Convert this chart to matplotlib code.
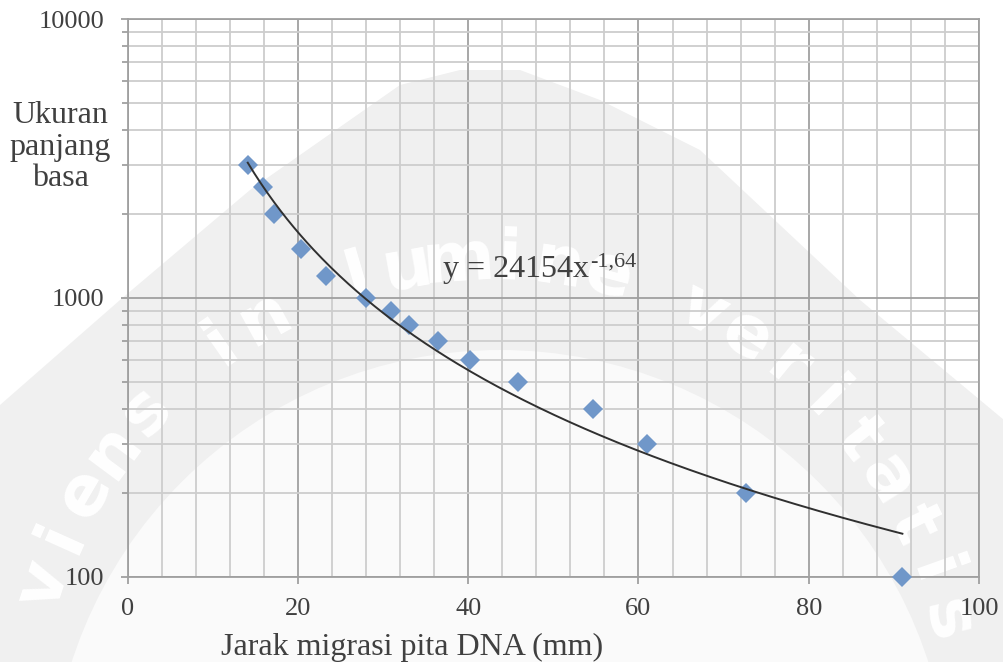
import numpy as np
import matplotlib
matplotlib.use("Agg")
import matplotlib.pyplot as plt
from matplotlib.ticker import MultipleLocator, LogLocator, NullFormatter
from matplotlib.patches import Polygon, Circle

# jarak migrasi (mm) dan ukuran pita (bp)
jarak = [14.1, 15.9, 17.2, 20.4, 23.3, 28.0, 30.9, 33.1, 36.4, 40.2, 45.9, 54.7, 61.0, 72.6, 91.0]
ukuran = [3000, 2500, 2000, 1500, 1200, 1000, 900, 800, 700, 600, 500, 400, 300, 200, 100]

x_ticks = [0, 20, 40, 60, 80, 100]
y_ticks = [100, 1000, 10000]
y_ticklabels = ["100", "1000", "10000"]
persamaan = "y = 24154x"
pangkat = "-1,64"

plt.rcParams["font.family"] = ["Liberation Serif", "DejaVu Serif"]
teks = "#404040"

W, H = 1004, 662
fig = plt.figure(figsize=(W / 100, H / 100), dpi=100)

# latar: logo samar di belakang grafik (koordinat piksel)
bg = fig.add_axes([0, 0, 1, 1], zorder=-1)
bg.set_xlim(0, W)
bg.set_ylim(H, 0)
bg.axis("off")
luar = [(-20, 430), (0, 405), (120, 300), (250, 190), (400, 85), (460, 70), (520, 70),
        (600, 100), (700, 150), (860, 300), (1004, 420), (1024, 440), (1024, 680), (-20, 680)]
bg.add_patch(Polygon(luar, closed=True, fc="#f0f0f0", ec="none"))
bg.add_patch(Circle((500, 800), 450, fc="#fafafa", ec="none"))
motto = "viens in lumine veritatis"
sudut = np.linspace(162.0, 13.5, len(motto))
for huruf, phi in zip(motto, sudut):
    r = np.radians(phi)
    bg.text(490 + 470 * np.cos(r), 730 - 470 * np.sin(r), huruf, fontsize=50,
            family="DejaVu Sans", weight="bold", color="white", rotation=phi - 90,
            ha="center", va="center", rotation_mode="anchor")

# area plot
x0, x1 = 127.7, 979.0
ytop, ybot = 19.3, 576.7
ax = fig.add_axes([x0 / W, 1 - ybot / H, (x1 - x0) / W, (ybot - ytop) / H])
ax.set_facecolor("none")
ax.set_yscale("log")
ax.set_xlim(0, 100)
ax.set_ylim(100, 10000)

ax.set_xticks(x_ticks)
ax.set_xticklabels([str(v) for v in x_ticks])
ax.xaxis.set_minor_locator(MultipleLocator(4))
ax.set_yticks(y_ticks)
ax.set_yticklabels(y_ticklabels)
ax.yaxis.set_minor_locator(LogLocator(base=10, subs=range(2, 10)))
ax.yaxis.set_minor_formatter(NullFormatter())

ax.grid(True, which="major", color="#a0a0a0", lw=1.3)
ax.grid(True, which="minor", color="#cdcdcd", lw=1.3)
ax.set_axisbelow(True)
for s in ax.spines.values():
    s.set_color("#a0a0a0")
    s.set_linewidth(1.3)

ax.tick_params(axis="both", which="major", direction="out", length=5, width=1.3,
               color="#a0a0a0", labelsize=19, labelcolor=teks)
ax.tick_params(axis="x", which="major", pad=10)
ax.tick_params(axis="y", which="major", pad=12)
ax.tick_params(axis="x", which="minor", length=0)
ax.tick_params(axis="y", which="minor", direction="out", length=4, width=1.3, color="#a0a0a0")

# titik data
ax.plot(jarak, ukuran, ls="none", marker="D", markersize=10.5, color="#7097c9",
        markeredgewidth=0, zorder=3, clip_on=False)

# garis tren pangkat (fit log-log)
b, a = np.polyfit(np.log(jarak), np.log(ukuran), 1)
xt = np.linspace(min(jarak), max(jarak), 300)
ax.plot(xt, np.exp(a) * xt ** b, color="#303030", lw=1.4, zorder=4)

# persamaan tren, pangkat ditulis sebagai superskrip
t = fig.text(443 / W, 1 - 277 / H, persamaan, fontsize=23, color=teks, ha="left", va="baseline")
fig.canvas.draw()
bb = t.get_window_extent(fig.canvas.get_renderer())
fig.text(bb.x1 / W + 0.001, 1 - 267 / H, pangkat, fontsize=16, color=teks, ha="left", va="baseline")

# label sumbu
fig.text(412 / W, 1 - 655 / H, "Jarak migrasi pita DNA (mm)", fontsize=23, color=teks,
         ha="center", va="baseline")
fig.text(60 / W, 1 - 147 / H, "Ukuran\npanjang\nbasa", fontsize=23, color=teks,
         ha="center", va="center", multialignment="center", linespacing=1.1)

fig.savefig("out.png", dpi=100)
